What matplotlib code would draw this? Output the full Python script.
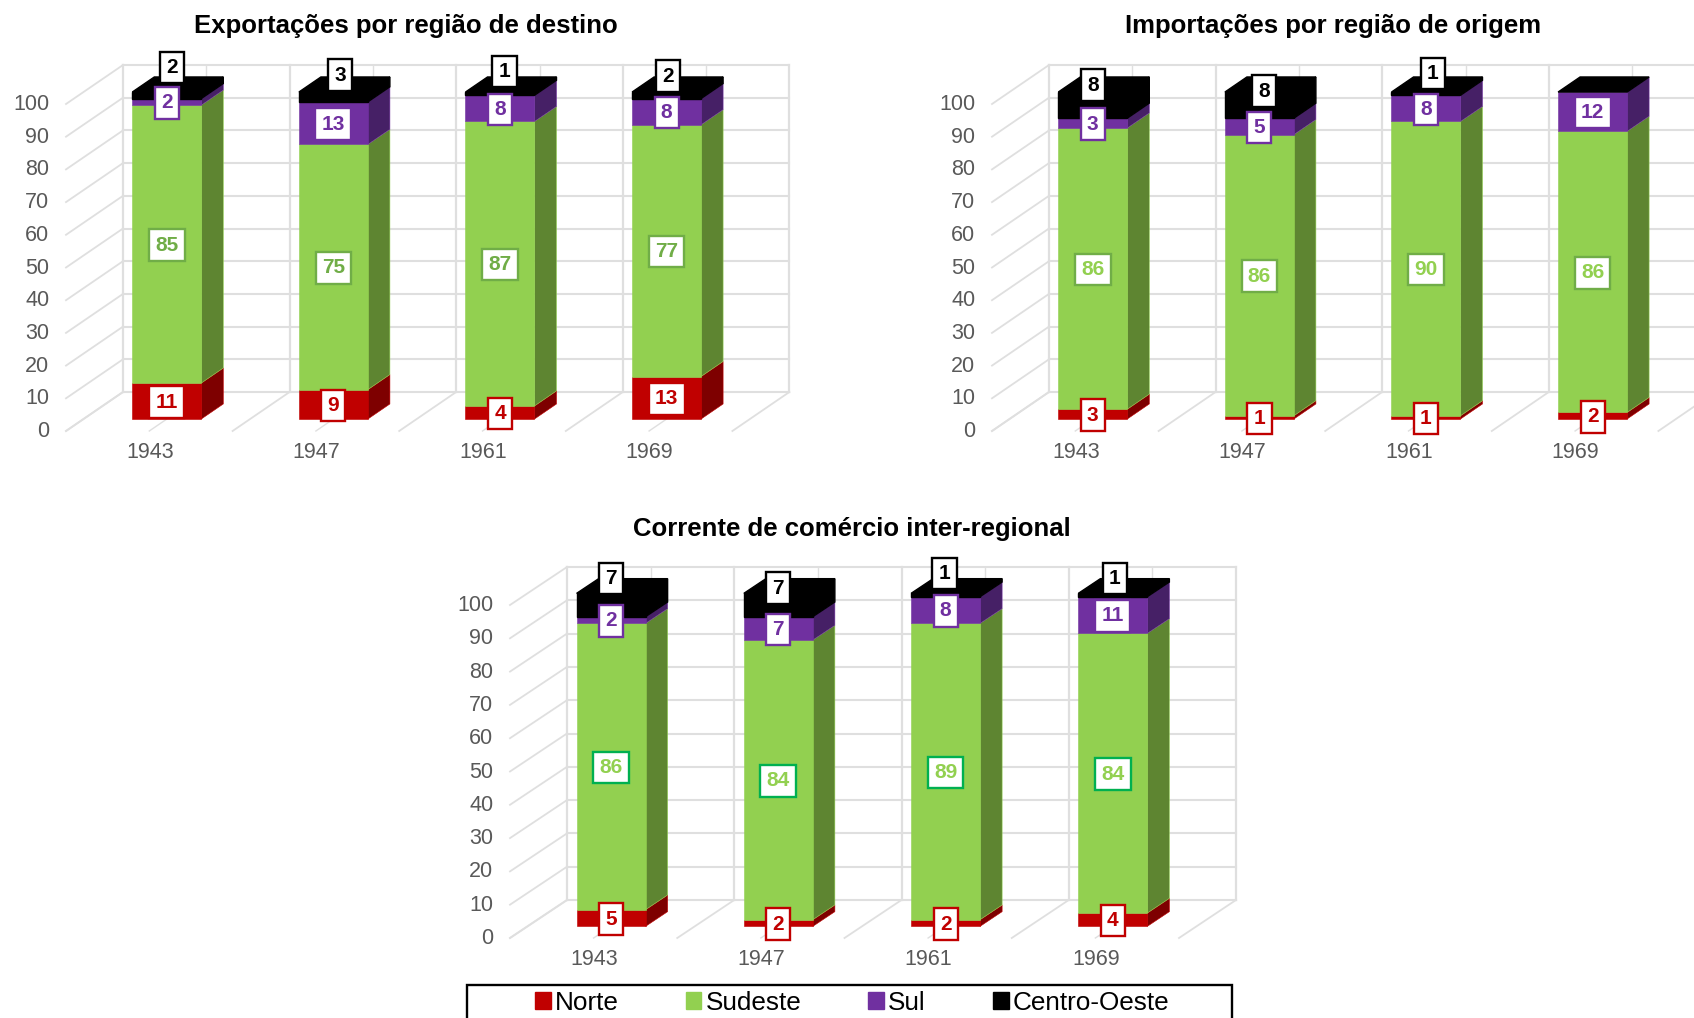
import matplotlib
matplotlib.use("Agg")
import matplotlib.pyplot as plt
from matplotlib.patches import Polygon, Patch, Rectangle
from matplotlib.transforms import ScaledTranslation

# Share of each region in inter-regional trade (percent of the yearly total)
years = ["1943", "1947", "1961", "1969"]
regions = ["Norte", "Sudeste", "Sul", "Centro-Oeste"]

exp_norte = [11, 9, 4, 13]
exp_sudeste = [85, 75, 87, 77]
exp_sul = [2, 13, 8, 8]
exp_centro = [2, 3, 1, 2]

imp_norte = [3, 1, 1, 2]
imp_sudeste = [86, 86, 90, 86]
imp_sul = [3, 5, 8, 12]
imp_centro = [8, 8, 1, 0]

cor_norte = [5, 2, 2, 4]
cor_sudeste = [86, 84, 89, 84]
cor_sul = [2, 7, 8, 11]
cor_centro = [7, 7, 1, 1]

W, H = 1694, 1018
FONT = "Liberation Sans"
plt.rcParams["font.family"] = FONT

front_colors = ["#C00000", "#92D050", "#7030A0", "#000000"]
side_colors = ["#7E0000", "#5E8531", "#462066", "#000000"]
GRID = "#DFDFDF"
TICK = "#595959"

# Depth projection of the box: wall offset in pixels, bars sit between these depth fractions
WALL_DX, WALL_DY = 57.0, 39.0
BAR_D0, BAR_D1 = 0.307, 0.693
BAR_PX = 69.0


def make_axes(left, right, y0, y100):
    return fig.add_axes([left / W, 1 - y0 / H, (right - left) / W, (y0 - y100) / H])


def stacked_box(ax, series, title, title_xy, wall_dy, green_text, green_edge,
                top_dx, top_rise):
    pos = ax.get_position()
    ax.set_xlim(-0.5, 3.5)
    ax.set_ylim(0, 100)
    for s in ax.spines.values():
        s.set_visible(False)
    ax.patch.set_alpha(0)
    cat_px = pos.width * W / 4.0
    val_px = pos.height * H / 100.0
    dx = WALL_DX / cat_px
    dy = wall_dy / val_px
    half = BAR_PX / cat_px / 2

    # Wall, side and floor gridlines
    n_cat = len(years)
    for v in range(0, 101, 10):
        ax.plot([-0.5, -0.5 + dx], [v, v + dy], color=GRID, lw=1.3, zorder=1, clip_on=False)
        ax.plot([-0.5 + dx, n_cat - 0.5 + dx], [v + dy, v + dy], color=GRID, lw=1.5,
                zorder=1, clip_on=False)
    for k in range(2 * n_cat + 1):
        x = -0.5 + k / 2
        major = k % 2 == 0
        ax.plot([x + dx, x + dx], [dy, 100 + dy], color=GRID, lw=1.6 if major else 1.0,
                zorder=1, clip_on=False)
        ax.plot([x, x + dx], [0, dy], color=GRID, lw=1.3 if major else 1.0,
                zorder=1, clip_on=False)

    # Bars: front faces from ax.bar, sides and cap as projected polygons
    bottoms = [0.0] * n_cat
    for s, vals in enumerate(series):
        edge_lw = 1.0 if s == 3 else 0.4
        for i, v in enumerate(vals):
            xc = i + BAR_D0 * dx
            yb = bottoms[i] + BAR_D0 * dy
            depth_x = (BAR_D1 - BAR_D0) * dx
            depth_y = (BAR_D1 - BAR_D0) * dy
            xr = xc + half
            if v > 0:
                ax.add_patch(Polygon(
                    [(xr, yb), (xr + depth_x, yb + depth_y),
                     (xr + depth_x, yb + v + depth_y), (xr, yb + v)],
                    closed=True, facecolor=side_colors[s], edgecolor=front_colors[s],
                    lw=edge_lw, zorder=3, clip_on=False))
                ax.bar(xc, v, width=2 * half, bottom=yb, color=front_colors[s],
                       edgecolor=front_colors[s], lw=edge_lw, zorder=4, clip_on=False)
            bottoms[i] += v

    for i in range(n_cat):
        xc = i + BAR_D0 * dx
        yt = bottoms[i] + BAR_D0 * dy
        depth_x = (BAR_D1 - BAR_D0) * dx
        depth_y = (BAR_D1 - BAR_D0) * dy
        ax.add_patch(Polygon(
            [(xc - half, yt), (xc + half, yt),
             (xc + half + depth_x, yt + depth_y), (xc - half + depth_x, yt + depth_y)],
            closed=True, facecolor="#000000", edgecolor="#000000", lw=1.0,
            zorder=5, clip_on=False))

    # Value labels: mid-segment on the front face, Centro-Oeste lifted above the cap
    text_colors = [front_colors[0], green_text, front_colors[2], "#000000"]
    edge_colors = [front_colors[0], green_edge, front_colors[2], "#000000"]
    bottoms = [0.0] * n_cat
    for s, vals in enumerate(series):
        for i, v in enumerate(vals):
            xc = i + BAR_D0 * dx
            box = dict(boxstyle="square,pad=0.3", facecolor="white",
                       edgecolor=edge_colors[s], lw=1.7)
            if s == 3:
                anchor = (xc, 100 + BAR_D0 * dy)
                shift = (top_dx[i], top_rise[i])
            else:
                anchor = (xc, bottoms[i] + v / 2 + BAR_D0 * dy)
                shift = (0, -1)
            if v > 0:
                ax.annotate(str(v), anchor, xytext=shift, textcoords="offset pixels",
                            ha="center", va="center", fontsize=15, fontweight="bold",
                            color=text_colors[s], bbox=box, zorder=8 if s == 3 else 7,
                            annotation_clip=False)
            bottoms[i] += v

    ax.set_xticks(range(n_cat), years)
    ax.set_yticks(range(0, 101, 10))
    ax.tick_params(axis="both", length=0, labelsize=15.5, labelcolor=TICK)
    ax.tick_params(axis="y", pad=12)
    ax.tick_params(axis="x", pad=8)
    up = ScaledTranslation(0, 2 / 100, fig.dpi_scale_trans)
    right = ScaledTranslation(0.5 / 100, 0, fig.dpi_scale_trans)
    for lab in ax.get_yticklabels():
        lab.set_transform(lab.get_transform() + up)
    for lab in ax.get_xticklabels():
        lab.set_transform(lab.get_transform() + right)

    tx = (title_xy[0] / W - pos.x0) / pos.width
    ty = ((1 - title_xy[1] / H) - pos.y0) / pos.height
    ax.set_title(title, x=tx, y=ty, va="center", ha="center", fontsize=18.5,
                 fontweight="bold", color="black", pad=0)


fig = plt.figure(figsize=(W / 100, H / 100), dpi=100, facecolor="white")

ax1 = make_axes(66, 732.4, 431, 104)
stacked_box(ax1, [exp_norte, exp_sudeste, exp_sul, exp_centro],
            "Exportações por região de destino", (406, 26), 39.0,
            "#70AD47", "#70AD47", [5, 7, 4.5, 1], [24.7, 17, 20.3, 16])

ax2 = make_axes(992, 1658.4, 431, 104)
stacked_box(ax2, [imp_norte, imp_sudeste, imp_sul, imp_centro],
            "Importações por região de origem", (1333, 26), 39.0,
            "#92D050", "#70AD47", [0, 5, 6.7, 0], [7, 1, 18.3, 0])

ax3 = make_axes(510, 1179, 938, 605)
stacked_box(ax3, [cor_norte, cor_sudeste, cor_sul, cor_centro],
            "Corrente de comércio inter-regional", (852, 529), 38.0,
            "#92D050", "#00B050", [0, 0, -1, 2], [14.7, 5.3, 19.7, 14.7])

# Legend frame runs off the bottom edge, so it is drawn apart from the entries
fig.add_artist(Rectangle((467 / W, -10 / H), 765 / W, (10 + 33) / H,
                         transform=fig.transFigure, facecolor="white",
                         edgecolor="black", lw=1.7, zorder=9))
handles = [Patch(facecolor=c, edgecolor=c, label=r) for c, r in zip(front_colors, regions)]
leg = fig.legend(handles=handles, ncol=4, loc="upper left",
                 bbox_to_anchor=(527 / W, 1 - 983 / H), borderaxespad=0,
                 fontsize=18.8, frameon=False, handlelength=0.6, handleheight=0.6,
                 handletextpad=0.16, columnspacing=2.57, borderpad=0.3)
leg.set_zorder(10)

fig.savefig("out.png", dpi=100, facecolor="white")
